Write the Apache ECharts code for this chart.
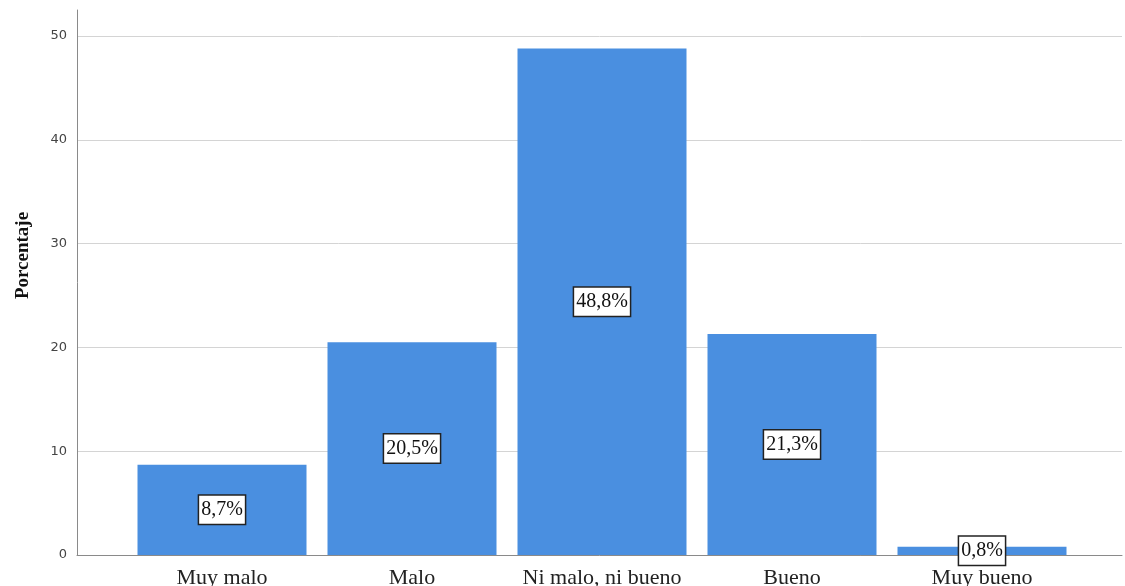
<!DOCTYPE html>
<html><head><meta charset="utf-8">
<script src="https://cdn.jsdelivr.net/npm/echarts@6/dist/echarts.min.js"></script>
<style>html,body{margin:0;padding:0;background:#fff}#c{width:1125px;height:586px}</style>
</head><body><div id="c"></div>
<script>
const categories = ["Muy malo", "Malo", "Ni malo, ni bueno", "Bueno", "Muy bueno"];
const percentages = [8.7, 20.5, 48.8, 21.3, 0.8];
const yTicks = [0, 10, 20, 30, 40, 50];
const yTitle = "Porcentaje";

const chart = echarts.init(document.getElementById('c'));
const serif = '"Liberation Serif", "DejaVu Serif", serif';
chart.setOption({
  animation: false,
  grid: [
    {left: 77, right: 3, top: 36, bottom: 31, outerBoundsMode: 'none', containLabel: false},
    {left: 77, right: 3, top: 10, bottom: 31, outerBoundsMode: 'none', containLabel: false},
    {left: 127, right: 48, top: 36, bottom: 31, outerBoundsMode: 'none', containLabel: false}
  ],
  xAxis: [
    {gridIndex: 0, type: 'value', min: 0, max: 1, show: false},
    {gridIndex: 1, type: 'value', min: 0, max: 1, axisLine: {show: true, onZero: false, lineStyle: {color: '#8a8a8a'}},
     axisTick: {show: false}, axisLabel: {show: false}, splitLine: {show: false}},
    {gridIndex: 2, type: 'category', data: categories, axisLine: {show: false}, axisTick: {show: false},
     axisLabel: {interval: 0, fontFamily: serif, fontSize: 22, color: '#222', margin: 12}}
  ],
  yAxis: [
    {gridIndex: 0, type: 'value', min: yTicks[0], max: yTicks[yTicks.length - 1], interval: 10,
     axisLine: {show: false}, axisTick: {show: false},
     axisLabel: {fontFamily: '"DejaVu Sans", sans-serif', fontSize: 13, color: '#444', margin: 10},
     splitLine: {lineStyle: {color: '#d4d4d4', width: 1}}},
    {gridIndex: 1, type: 'value', min: 0, max: 52.5, axisLine: {show: true, lineStyle: {color: '#8a8a8a'}},
     axisTick: {show: false}, axisLabel: {show: false}, splitLine: {show: false},
     name: yTitle, nameLocation: 'middle', nameGap: 44, nameRotate: 90,
     nameTextStyle: {fontFamily: serif, fontSize: 19, fontWeight: 'bold', color: '#111', padding: [0, 0, 0, 54]}},
    {gridIndex: 2, type: 'value', min: 0, max: 50, show: false}
  ],
  series: [{
    type: 'bar', xAxisIndex: 2, yAxisIndex: 2, data: percentages,
    barWidth: 169,
    itemStyle: {color: '#4a8fe0'},
    label: {
      show: true, position: 'inside',
      formatter: p => p.value.toFixed(1).replace('.', ',') + '%',
      fontFamily: serif, fontSize: 20, color: '#111',
      backgroundColor: '#fff', borderColor: '#222', borderWidth: 1.5,
      padding: [5, 2, 3, 2]
    }
  }]
});
</script></body></html>
